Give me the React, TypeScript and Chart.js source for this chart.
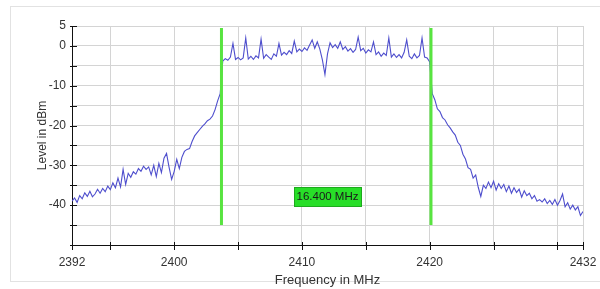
import React, { useEffect, useRef } from "react";
import { Chart, registerables } from "chart.js";

Chart.register(...registerables);

// Spectrum trace: sampled every 0.2 MHz from 2392 MHz to 2432 MHz (dBm)
const FREQ_START = 2392;
const FREQ_STEP = 0.2;
const levels: number[] = [
  -39.0, -38.2, -39.3, -37.6, -38.4, -36.9, -37.8, -36.5, -37.9, -37.2,
  -36.0, -37.0, -35.8, -36.6, -35.2, -36.1, -34.4, -35.6, -33.2, -35.4,
  -31.0, -34.8, -32.0, -33.0, -31.6, -32.2, -30.8, -31.5, -30.2, -31.0,
  -30.4, -32.4, -30.0, -32.8, -29.5, -31.8, -28.2, -27.0, -30.5, -33.5,
  -31.5, -28.5, -30.8, -28.0, -26.5, -26.0, -25.8, -24.0, -22.6, -21.8,
  -21.0, -20.2, -19.6, -18.8, -18.4, -17.6, -16.0, -13.8, -12.0, -3.8,
  -3.2, -3.6, -2.8, 0.6, -3.4, -2.9, -3.5, -3.0, 2.0, -3.3,
  -2.6, -3.4, -2.5, -3.0, 1.7, -3.1, -2.2, -2.8, -3.4, -2.0,
  -2.6, 0.6, -2.3, -1.6, -2.2, -1.2, -1.9, 1.2, -1.5, -0.8,
  -1.4, -0.5, -1.1, 0.2, 1.5, -0.6, 1.0, -0.8, -3.5, -7.2,
  -2.0, 0.8, -0.4, 0.3, -0.6, 1.0, -0.9, -0.2, -1.3, -0.7,
  -1.6, -0.9, 2.2, -1.2, -0.6, -1.8, -1.0, -1.5, 1.0, -2.2,
  -1.5, -2.6, -1.8, -2.4, 2.0, -2.8, -2.0, -2.9, -2.2, -3.0,
  -1.6, 1.5, -2.6, -3.2, -2.0, -3.0, -2.4, 2.0, -2.8, -3.0,
  -4.0, -12.0, -13.5, -15.8, -16.5, -18.0, -18.6, -19.8, -20.6, -21.6,
  -22.4, -24.2, -25.0, -27.2, -28.4, -30.6, -31.0, -33.2, -32.4, -35.5,
  -37.8, -35.0, -35.8, -34.2, -35.6, -34.0, -36.2, -34.6, -35.8, -34.8,
  -36.6, -35.2, -37.0, -35.6, -36.8, -36.0, -38.0, -36.4, -37.6, -37.0,
  -38.4, -37.6, -39.0, -38.6, -39.2, -38.4, -39.6, -38.8, -39.8, -38.6,
  -40.0, -38.8, -37.2, -40.4, -39.4, -41.0, -40.0, -41.2, -40.4, -42.6,
  -41.6,
];

// Bandwidth markers (MHz) and their vertical extent (dBm)
const markerFreqs = [2403.7, 2420.1];
const markerTop = 4.5;
const markerBottom = -45;
const spanLabel = "16.400 MHz";
const spanLabelFreq = 2412;
const spanLabelLevel = -37.7;

// Axes
const xMin = 2392;
const xMax = 2432;
const yMin = -50;
const yMax = 5;
const xGridValues = [2392, 2395, 2400, 2405, 2410, 2415, 2420, 2425, 2430, 2432];
const xLabelValues = [2392, 2400, 2410, 2420, 2432];
const yLabelValues = [5, 0, -10, -20, -30, -40];
const xTitle = "Frequency in MHz";
const yTitle = "Level in dBm";

const FONT = "'Liberation Sans', Arial, Helvetica, sans-serif";

const overlayPlugin = {
  id: "overlay",
  afterDatasetsDraw(chart: any) {
    const { ctx } = chart;
    const xs = chart.scales.x;
    const ys = chart.scales.y;
    ctx.save();
    const cx = xs.getPixelForValue(spanLabelFreq);
    const cy = ys.getPixelForValue(spanLabelLevel);
    ctx.font = `11.5px ${FONT}`;
    const tw = ctx.measureText(spanLabel).width;
    const w = Math.round(tw + 5);
    const h = 19;
    const bx = Math.round(cx - w / 2) + 0.5;
    const by = Math.round(cy - h / 2) + 0.5;
    ctx.fillStyle = "rgb(40,222,40)";
    ctx.fillRect(bx, by, w, h);
    ctx.strokeStyle = "rgb(30,170,30)";
    ctx.lineWidth = 1;
    ctx.strokeRect(bx, by, w, h);
    ctx.fillStyle = "#1a1a1a";
    ctx.textAlign = "center";
    ctx.textBaseline = "middle";
    ctx.fillText(spanLabel, cx, cy + 1);
    ctx.restore();
  },
  afterDraw(chart: any) {
    const { ctx, chartArea } = chart;
    const xs = chart.scales.x;
    const ys = chart.scales.y;
    ctx.save();
    ctx.strokeStyle = "#111";
    ctx.lineWidth = 1;
    ctx.beginPath();
    xs.ticks.forEach((t: any) => {
      const px = Math.round(xs.getPixelForValue(t.value)) + 0.5;
      ctx.moveTo(px, chartArea.bottom - 3);
      ctx.lineTo(px, chartArea.bottom + 5);
    });
    ys.ticks.forEach((t: any) => {
      const py = Math.round(ys.getPixelForValue(t.value)) + 0.5;
      ctx.moveTo(chartArea.left - 2, py);
      ctx.lineTo(chartArea.left + 5, py);
    });
    ctx.stroke();
    ctx.restore();
  },
};

export default function App() {
  const canvasRef = useRef<HTMLCanvasElement | null>(null);

  useEffect(() => {
    const canvas = canvasRef.current;
    if (!canvas) return;
    const trace = levels.map((v, i) => ({ x: FREQ_START + i * FREQ_STEP, y: v }));
    const markerSets = markerFreqs.map((f) => ({
      data: [
        { x: f, y: markerTop },
        { x: f, y: markerBottom },
      ],
      borderColor: "rgb(88,228,64)",
      borderWidth: 3,
      pointRadius: 0,
      borderCapStyle: "butt" as const,
      order: 0,
    }));
    const chart = new Chart(canvas, {
      type: "line",
      data: {
        datasets: [
          ...markerSets,
          {
            data: trace,
            borderColor: "rgb(78,78,205)",
            borderWidth: 1.1,
            pointRadius: 0,
            tension: 0,
            order: 1,
          },
        ],
      },
      options: {
        animation: false,
        responsive: false,
        events: [],
        layout: { padding: { top: 26, right: 17, left: 0, bottom: 0 } },
        plugins: {
          legend: { display: false },
          tooltip: { enabled: false },
        },
        scales: {
          x: {
            type: "linear",
            min: xMin,
            max: xMax,
            afterBuildTicks: (axis: any) => {
              axis.ticks = xGridValues.map((v) => ({ value: v }));
            },
            afterFit: (axis: any) => {
              axis.height = 44;
              axis.paddingLeft = 0;
              axis.paddingRight = 0;
            },
            grid: { color: "#d4d4d4", lineWidth: 1, drawTicks: false },
            border: { display: true, color: "#111", width: 1 },
            ticks: {
              autoSkip: false,
              maxRotation: 0,
              padding: 10,
              color: "#333",
              font: { family: FONT, size: 12 },
              callback: (v: any) => (xLabelValues.includes(Number(v)) ? String(v) : ""),
            },
            title: {
              display: true,
              text: xTitle,
              color: "#333",
              font: { family: FONT, size: 13 },
              padding: { top: 0, bottom: 1 },
            },
          },
          y: {
            type: "linear",
            min: yMin,
            max: yMax,
            afterFit: (axis: any) => {
              axis.width = 72;
              axis.paddingTop = 0;
              axis.paddingBottom = 0;
            },
            grid: { color: "#d4d4d4", lineWidth: 1, drawTicks: false },
            border: { display: true, color: "#111", width: 1 },
            ticks: {
              stepSize: 5,
              autoSkip: false,
              padding: 6,
              color: "#333",
              font: { family: FONT, size: 12 },
              callback: (v: any) => (yLabelValues.includes(Number(v)) ? String(v) : ""),
            },
            title: {
              display: true,
              text: yTitle,
              color: "#333",
              font: { family: FONT, size: 12 },
              padding: { top: 35, bottom: 0 },
            },
          },
        },
      },
      plugins: [overlayPlugin],
    });
    return () => chart.destroy();
  }, []);

  return (
    <div style={{ position: "fixed", left: 0, top: 0, width: 600, height: 289, background: "#fff", overflow: "hidden" }}>
      <div
        style={{
          position: "absolute",
          left: 10,
          top: 6,
          width: 620,
          height: 276,
          border: "1px solid #e2e2e2",
          boxSizing: "border-box",
        }}
      />
      <canvas ref={canvasRef} width={600} height={289} style={{ position: "absolute", left: 0, top: 0 }} />
    </div>
  );
}
